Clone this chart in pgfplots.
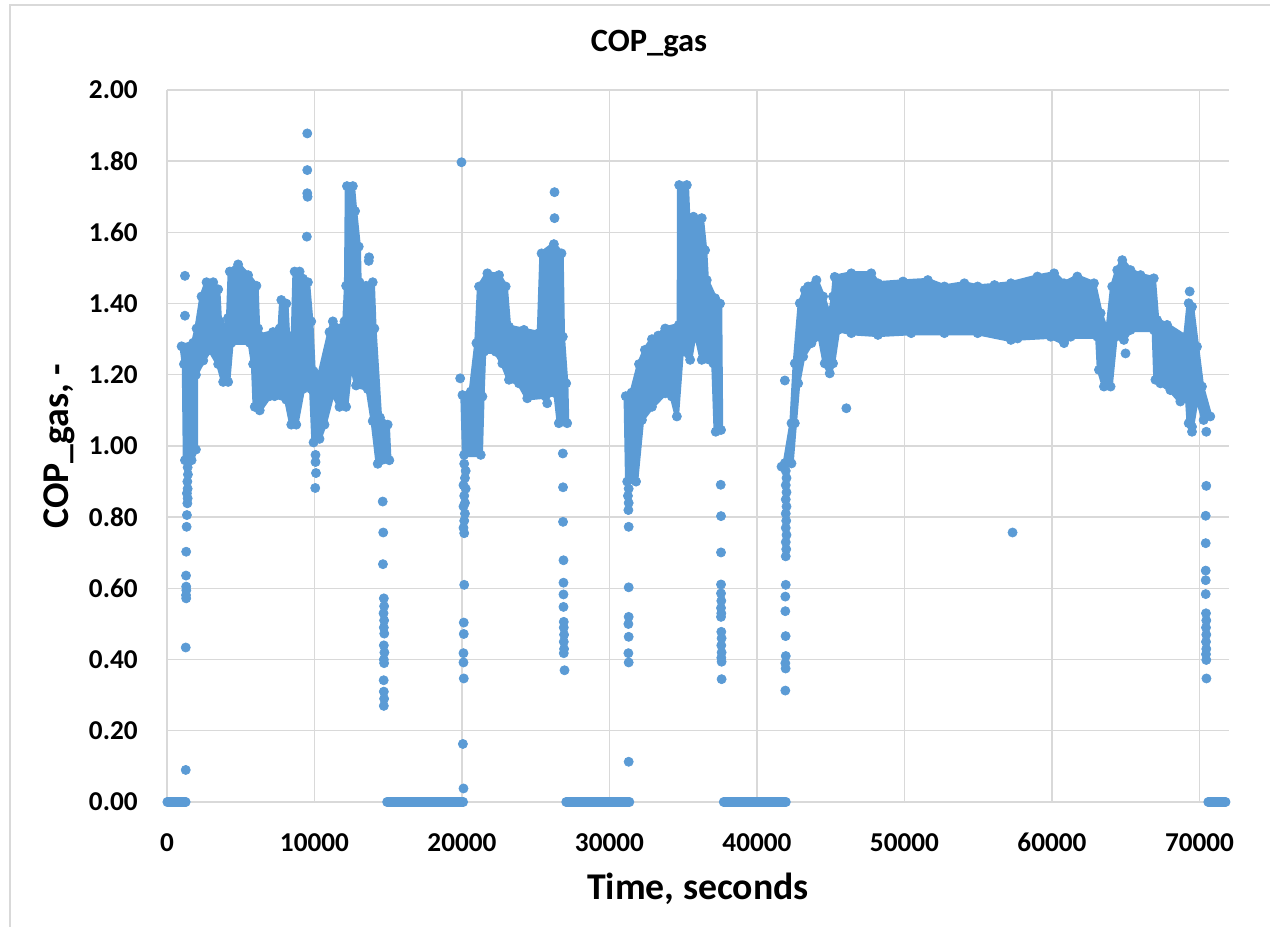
\documentclass[border=0pt]{standalone}
\usepackage{pgfplots}
\pgfplotsset{compat=1.18}
\usepackage{pgfplotstable}
\usepackage{fontspec}
\setmainfont{Carlito}
\definecolor{cblue}{HTML}{5B9BD5}
\definecolor{gridgray}{HTML}{D9D9D9}

% outlines of the dense parts of the scatter (time, COP_gas)
\pgfplotstableread{
t y
991 1.28
1780 1.29
2005 1.33
2343 1.42
2681 1.46
3132 1.46
3470 1.44
3583 1.35
3921 1.33
4146 1.36
4258 1.49
4822 1.51
5497 1.48
6061 1.45
6173 1.33
6286 1.31
7187 1.32
7638 1.33
7751 1.41
8088 1.40
8201 1.31
8539 1.31
8652 1.49
8990 1.49
9215 1.47
9553 1.46
9778 1.35
9936 1.21
10341 1.20
11017 1.32
11243 1.35
11693 1.33
12031 1.35
12144 1.45
12200 1.73
12600 1.73
12750 1.66
13000 1.56
13050 1.46
13500 1.45
13947 1.46
14060 1.33
14436 1.08
14961 1.06
15073 0.96
14286 0.95
13947 1.07
13609 1.16
12820 1.17
12482 1.24
12144 1.11
11693 1.11
11243 1.15
10679 1.06
10341 1.02
9936 1.01
9778 1.16
9215 1.16
8764 1.06
8426 1.06
8088 1.13
7300 1.14
6962 1.14
6286 1.10
5948 1.11
5836 1.23
5610 1.29
4371 1.29
4146 1.18
3808 1.18
3470 1.23
2907 1.27
2456 1.24
1960 1.20
1960 0.99
1667 0.96
1217 0.96
1149 1.23
}\runA

\pgfplotstableread{
t y
20032 1.143
20595 1.153
20978 1.289
21158 1.448
21722 1.485
22510 1.480
22961 1.448
23186 1.335
24200 1.326
25214 1.317
25394 1.541
26228 1.567
26746 1.541
26836 1.307
27062 1.176
27129 1.064
26565 1.064
26340 1.148
25664 1.139
24425 1.134
23862 1.176
23186 1.186
22735 1.232
22285 1.265
21496 1.265
21384 1.139
21271 0.975
20144 0.975
}\runB

\pgfplotstableread{
t y
31100 1.14
31500 1.15
32000 1.23
32400 1.27
32877 1.30
33300 1.31
33778 1.33
34700 1.34
34724 1.733
35242 1.733
35354 1.62
35693 1.644
36256 1.64
36481 1.55
36594 1.466
37157 1.415
37495 1.40
37562 1.045
37202 1.04
37044 1.232
36256 1.242
35805 1.326
35467 1.242
34904 1.27
34566 1.083
34228 1.139
33778 1.148
32877 1.11
32200 1.073
31800 0.90
31200 0.90
}\runC

\pgfplotstableread{
t y
41663 0.942
41888 0.952
42339 1.064
42564 1.232
42902 1.401
43240 1.438
43466 1.448
44029 1.466
44480 1.42
44930 1.363
45155 1.42
45268 1.475
46394 1.485
47746 1.485
48200 1.457
49900 1.462
51580 1.466
52706 1.448
54058 1.457
54959 1.448
56100 1.452
57212 1.457
59014 1.476
60141 1.485
60817 1.457
61718 1.476
62844 1.457
63295 1.373
63745 1.317
64083 1.448
64422 1.494
64760 1.522
65323 1.494
65999 1.48
66900 1.471
67125 1.354
67801 1.34
69040 1.307
69266 1.401
69491 1.391
69829 1.279
70167 1.167
70730 1.083
70280 1.073
69829 1.139
69491 1.054
69266 1.064
69153 1.139
68702 1.125
68026 1.157
67350 1.176
67012 1.186
66900 1.326
65323 1.326
64873 1.298
64309 1.307
63971 1.167
63520 1.167
63183 1.214
63070 1.307
61268 1.307
60817 1.289
59916 1.307
57663 1.302
57212 1.298
54959 1.317
52706 1.317
50453 1.317
48200 1.312
46394 1.317
45493 1.326
45155 1.232
44930 1.204
44592 1.232
44254 1.307
43691 1.289
43128 1.251
42789 1.176
42564 1.064
42339 0.951
}\runD

\begin{document}
\begin{tikzpicture}
\useasboundingbox (0,0) rectangle (25.4cm,18.54cm);
% chart frame (top and left edges are visible in the reference)
\draw[gridgray, line width=0.8pt] (0.2cm,0) -- (0.2cm,18.44cm) -- (25.4cm,18.44cm);
\node[anchor=base, font=\bfseries\fontsize{18.5}{22}\selectfont] at (12.98cm,17.5cm) {COP\_gas};

\begin{axis}[
    at={(3.34cm,2.5cm)}, anchor=south west,
    scale only axis, width=21.24cm, height=14.24cm,
    xmin=0, xmax=72000, ymin=0, ymax=2,
    xtick={0,10000,20000,30000,40000,50000,60000,70000},
    ytick={0,0.2,0.4,0.6,0.8,1,1.2,1.4,1.6,1.8,2},
    scaled ticks=false,
    clip=false,
    axis line style={draw=none},
    major tick length=0pt,
    grid=major,
    grid style={gridgray, line width=0.8pt},
    /pgf/number format/assume math mode=true,
    ticklabel style={font=\bfseries\fontsize{15.5}{18}\selectfont, inner sep=0pt},
    xticklabel style={anchor=north, yshift=-0.62cm,
        /pgf/number format/1000 sep={}},
    yticklabel style={anchor=east, xshift=-0.58cm,
        /pgf/number format/.cd, fixed, fixed zerofill, precision=2},
    xlabel={Time, seconds},
    ylabel={COP\_gas, -},
    label style={font=\bfseries\fontsize{21.5}{25}\selectfont},
    xlabel style={at={(axis description cs:0.5,-0.1376)}, anchor=base},
    ylabel style={at={(axis description cs:-0.0923,0.5)}, anchor=base},
    band/.style={fill=cblue, draw=cblue, line width=2.5pt, line join=round},
    dots/.style={only marks, mark=*, mark size=2.6pt, cblue},
    zero/.style={cblue, line width=5.2pt, line cap=round},
]

\addplot[band] table[x=t, y=y] {\runA} -- cycle;
\addplot[band] table[x=t, y=y] {\runB} -- cycle;
\addplot[band] table[x=t, y=y] {\runC} -- cycle;
\addplot[band] table[x=t, y=y] {\runD} -- cycle;
\addplot[dots] table[x=t, y=y] {\runA};
\addplot[dots] table[x=t, y=y] {\runB};
\addplot[dots] table[x=t, y=y] {\runC};
\addplot[dots] table[x=t, y=y] {\runD};

% stretches where COP_gas is zero
\addplot[zero] coordinates {(0,0) (1290,0)};
\addplot[zero] coordinates {(14900,0) (20100,0)};
\addplot[zero] coordinates {(27040,0) (31370,0)};
\addplot[zero] coordinates {(37720,0) (41980,0)};
\addplot[zero] coordinates {(70570,0) (71790,0)};

% single points
\addplot[dots] coordinates {
(1217,1.478) (1217,1.366) (1250,1.27)
(1400,0.94) (1420,0.92) (1380,0.90) (1400,0.88) (1350,0.867) (1400,0.853)
(1380,0.839) (1350,0.806) (1330,0.773) (1300,0.703) (1290,0.636) (1300,0.605)
(1310,0.595) (1290,0.581) (1300,0.572) (1270,0.434) (1270,0.090)
(9510,1.878) (9510,1.775) (9510,1.71) (9530,1.70) (9480,1.588)
(10070,0.975) (10070,0.955) (10100,0.924) (10050,0.882)
(13678,1.52) (13700,1.53)
(14624,0.844) (14660,0.757) (14640,0.668) (14700,0.572) (14720,0.55)
(14680,0.53) (14720,0.51) (14700,0.49) (14730,0.473) (14700,0.44)
(14740,0.42) (14700,0.40) (14720,0.39) (14690,0.342) (14700,0.31)
(14720,0.29) (14700,0.27)
(19965,1.797) (19877,1.19)
(20150,0.95) (20250,0.93) (20200,0.91) (20100,0.89) (20250,0.88) (20150,0.86)
(20200,0.84) (20100,0.83) (20200,0.81) (20150,0.79) (20100,0.77) (20150,0.755)
(20150,0.61) (20120,0.504) (20120,0.472) (20100,0.418) (20100,0.392)
(20120,0.347) (20060,0.163) (20100,0.038)
(26273,1.713) (26273,1.64) (25777,1.12) (26836,0.979) (26850,0.884)
(26850,0.787) (26880,0.679) (26880,0.616) (26880,0.583) (26880,0.548)
(26900,0.506) (26900,0.49) (26920,0.47) (26900,0.45) (26920,0.43)
(26900,0.418) (26950,0.370)
(31300,0.88) (31250,0.86) (31300,0.84) (31280,0.82) (31300,0.773)
(31300,0.603) (31300,0.520) (31280,0.500) (31300,0.464) (31280,0.418)
(31300,0.392) (31300,0.113)
(37540,0.891) (37560,0.803) (37560,0.701) (37560,0.611) (37560,0.586)
(37580,0.565) (37560,0.545) (37580,0.530) (37560,0.520) (37580,0.478)
(37600,0.46) (37580,0.44) (37600,0.42) (37580,0.405) (37600,0.394)
(37600,0.345)
(41888,1.184)
(41950,0.93) (42000,0.91) (41950,0.89) (42000,0.87) (41950,0.85) (42000,0.83)
(41950,0.81) (41980,0.79) (41950,0.77) (42000,0.75) (41950,0.73) (41980,0.71)
(41950,0.69) (41950,0.61) (41920,0.577) (41920,0.536) (41940,0.466)
(41950,0.41) (41920,0.39) (41940,0.375) (41920,0.313)
(46057,1.106) (57325,0.757) (64985,1.26)
(69333,1.434) (69491,1.04) (70460,1.04) (70460,0.888)
(70420,0.804) (70420,0.727) (70420,0.65) (70420,0.623) (70420,0.584)
(70440,0.530) (70460,0.51) (70440,0.49) (70460,0.47) (70440,0.45)
(70460,0.43) (70440,0.415) (70460,0.399) (70470,0.347)
};

\end{axis}
\end{tikzpicture}
\end{document}
